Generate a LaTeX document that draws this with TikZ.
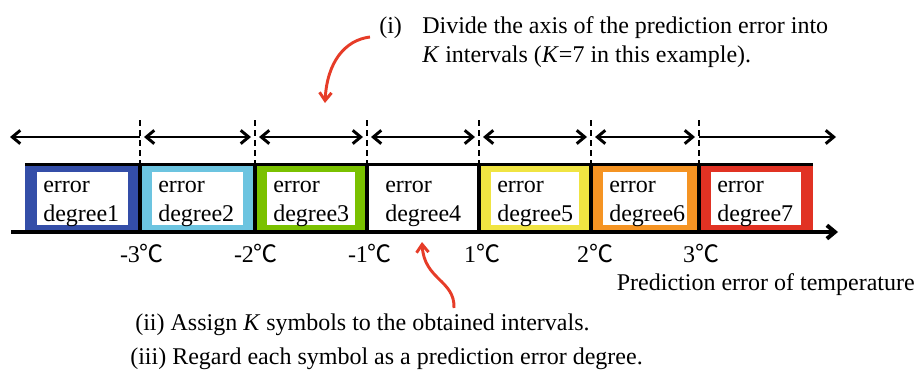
\documentclass[tikz,border=0pt]{standalone}
\usepackage{fontspec}
\setmainfont{Liberation Serif}
\newfontfamily\cjk{Noto Sans CJK JP}
\usepackage{tikz}
\usetikzlibrary{arrows.meta, calc, positioning}
\definecolor{degA}{RGB}{52,78,168}
\definecolor{degB}{RGB}{108,196,224}
\definecolor{degC}{RGB}{122,193,0}
\definecolor{degD}{RGB}{255,255,255}
\definecolor{degE}{RGB}{240,228,66}
\definecolor{degF}{RGB}{245,148,35}
\definecolor{degG}{RGB}{225,50,35}
\definecolor{notered}{RGB}{230,60,40}
\tikzset{
  rim/.style     = {line width=2.25pt, black},
  divline/.style = {line width=1.5pt, dash pattern=on 4.5pt off 3pt},
  intarrow/.style = {line width=2.2pt, {Straight Barb[length=6pt,width=10pt]}-{Straight Barb[length=6pt,width=10pt]}},
  axisline/.style = {line width=3pt, -{Straight Barb[length=6pt,width=10pt]}},
  note/.style    = {-{Straight Barb[length=6pt,width=9pt]}, line width=2.2pt, notered},
  lbl/.style     = {font=\fontsize{18}{21}\selectfont, inner sep=0pt},
}
\newcommand{\degc}{{\cjk ℃}}
\newcommand{\errbox}[4]{%
  \fill[#3] (#1,-164) rectangle (#2,-232);
  \fill[white] (#1+12,-172) rectangle (#2-12,-225);
  \node[lbl, anchor=base west] (err#4) at (#1+18,-192) {error};
  \node[lbl, anchor=base west] (deg#4) at (#1+18,-221.5) {degree#4};
}

\begin{document}
\begin{tikzpicture}[x=0.75pt, y=0.75pt]
  \useasboundingbox (0,0) rectangle (918,-372);
  \errbox{25}{140}{degA}{1}
  \errbox{140}{255}{degB}{2}
  \errbox{255}{367}{degC}{3}
  \errbox{367}{479}{degD}{4}
  \errbox{479}{591}{degE}{5}
  \errbox{591}{699}{degF}{6}
  \errbox{699}{813}{degG}{7}
  \draw[rim] (25,-164) -- (813,-164);
  \foreach \b in {140,255,367,479,591,699} {
    \draw[divline] (\b,-120) -- (\b,-164);
    \draw[line width=3pt] (\b,-164) -- (\b,-232);
  }
  \coordinate (a0) at (10,-137);
  \coordinate (a1) at (140,-137);
  \coordinate (a2) at (255,-137);
  \coordinate (a3) at (367,-137);
  \coordinate (a4) at (479,-137);
  \coordinate (a5) at (591,-137);
  \coordinate (a6) at (699,-137);
  \coordinate (a7) at (836,-137);
  \draw[line width=2.2pt, {Straight Barb[length=6pt,width=10pt]}-] (a0) -- (a1);
  \foreach \p/\q in {a1/a2, a2/a3, a3/a4, a4/a5, a5/a6}
    \draw[intarrow, shorten <=3pt, shorten >=3pt] (\p) -- (\q);
  \draw[line width=2.2pt, -{Straight Barb[length=6pt,width=10pt]}] (a6) -- (a7);
  \coordinate (ax0) at (11,-232);
  \coordinate (ax1) at (838,-232);
  \draw[axisline] (ax0) -- (ax1);
  \node[lbl, anchor=base] (tm3) at (142,-262) {-3\degc};
  \node[lbl, anchor=base] (tm2) at (256,-262) {-2\degc};
  \node[lbl, anchor=base] (tm1) at (370,-262) {-1\degc};
  \node[lbl, anchor=base] (tp1) at (482,-262) {1\degc};
  \node[lbl, anchor=base] (tp2) at (595,-262) {2\degc};
  \node[lbl, anchor=base] (tp3) at (701,-262) {3\degc};
  \node[lbl, anchor=base east] (xlabel) at (915,-290) {Prediction error of temperature};
  \node[lbl, anchor=base west] (stepi) at (379,-33) {(i)};
  \node[lbl, anchor=base west] (stepia) at (422,-33) {Divide the axis of the prediction error into};
  \node[lbl, anchor=base west] (stepib) at (422,-62) {\textit{K} intervals (\textit{K}=7 in this example).};
  \node[lbl, anchor=base west] (stepii) at (135,-330) {(ii) Assign \textit{K} symbols to the obtained intervals.};
  \node[lbl, anchor=base west] (stepiii) at (130,-364) {(iii) Regard each symbol as a prediction error degree.};
  \coordinate (ra) at (370,-37);
  \coordinate (rb) at (325,-103);
  \coordinate (rc) at (454,-308);
  \coordinate (rd) at (422,-242);
  \draw[note] (ra) .. controls (345,-40) and (327,-62) .. (rb);
  \draw[note] (rc) .. controls (455,-280) and (424,-280) .. (rd);
\end{tikzpicture}
\end{document}
